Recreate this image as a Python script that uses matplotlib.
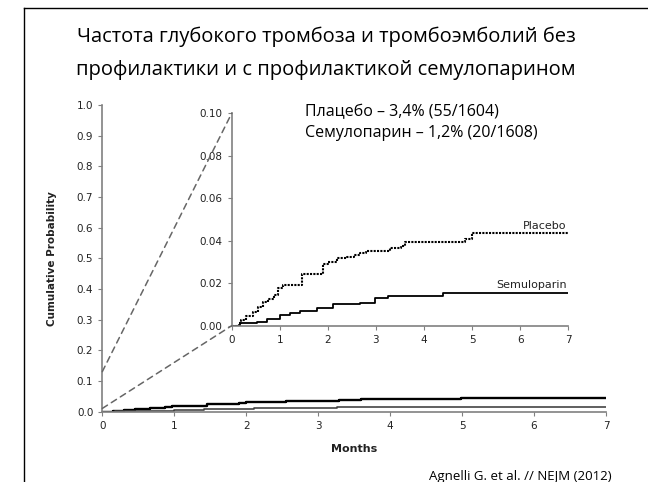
import numpy as np
import matplotlib
matplotlib.use('Agg')
import matplotlib.pyplot as plt
from matplotlib.patches import ConnectionPatch
from matplotlib.lines import Line2D

# data (Kaplan-Meier style step curves)
months_placebo = [0, 0.15, 0.2, 0.3, 0.45, 0.55, 0.66, 0.75, 0.87, 0.97, 1.07,
                  1.35, 1.46, 1.84, 1.9, 2.0, 2.18, 2.39, 2.55, 2.67, 2.8,
                  3.19, 3.29, 3.53, 3.6, 4.75, 4.85, 4.99, 7.0]
prob_placebo = [0, 0.0012, 0.0027, 0.0045, 0.0066, 0.0088, 0.0113, 0.0128, 0.0144,
                0.0176, 0.019, 0.0193, 0.0243, 0.0243, 0.029, 0.0302, 0.0317,
                0.0325, 0.0335, 0.0344, 0.0353, 0.0353, 0.0367, 0.0375, 0.0395,
                0.0395, 0.041, 0.0435, 0.0435]

months_semu = [0, 0.17, 0.52, 0.73, 1.0, 1.21, 1.42, 1.77, 2.11, 2.67, 2.98,
               3.26, 4.4, 7.0]
prob_semu = [0, 0.0011, 0.0016, 0.003, 0.005, 0.0061, 0.007, 0.0085, 0.01,
             0.0108, 0.0129, 0.014, 0.0155, 0.0155]

main_yticks = [0.0, 0.1, 0.2, 0.3, 0.4, 0.5, 0.6, 0.7, 0.8, 0.9, 1.0]
inset_yticks = [0.00, 0.02, 0.04, 0.06, 0.08, 0.10]
xticks = [0, 1, 2, 3, 4, 5, 6, 7]

title = "Частота глубокого тромбоза и тромбоэмболий без\nпрофилактики и с профилактикой семулопарином"
note = "Плацебо – 3,4% (55/1604)\nСемулопарин – 1,2% (20/1608)"
source = "Agnelli G. et al. // NEJM (2012)"

axis_grey = '#808080'
tick_kw = dict(labelsize=7.5, labelcolor='#222222', length=3, width=0.8,
               direction='out', color=axis_grey)

fig = plt.figure(figsize=(6.48, 4.82), dpi=100)

# slide frame (left and top edges visible)
fig.add_artist(Line2D([24/648, 24/648], [0, 1 - 8/482], color='black', lw=1.0))
fig.add_artist(Line2D([24/648, 1], [1 - 8/482, 1 - 8/482], color='black', lw=1.0))

fig.text(0.503, 1 - 27/482, title, ha='center', va='top', fontsize=14.5,
         family='Open Sans', linespacing=1.85, color='black')

# main axes
ax = fig.add_axes([102.3/648, 1 - 411.5/482, (606 - 102.3)/648, (411.5 - 105)/482])
ax.step(months_placebo, prob_placebo, where='post', color='black', lw=1.7)
ax.step(months_semu, prob_semu, where='post', color='#444444', lw=1.2)
ax.set_xlim(0, 7)
ax.set_ylim(0, 1.0)
ax.set_xticks(xticks)
ax.set_yticks(main_yticks)
ax.set_yticklabels(['%.1f' % v for v in main_yticks])
for s in ['top', 'right']:
    ax.spines[s].set_visible(False)
for s in ['left', 'bottom']:
    ax.spines[s].set_color(axis_grey)
    ax.spines[s].set_linewidth(1.2)
ax.tick_params(**tick_kw)
ax.set_xlabel('Months', fontsize=8, fontweight='bold', color='#222222', labelpad=10)
ax.set_ylabel('Cumulative Probability', fontsize=7.5, fontweight='bold',
              color='#222222', labelpad=14)
ax.patch.set_alpha(0)

# inset axes
ins = fig.add_axes([231.7/648, 1 - 325.7/482, (568.3 - 231.7)/648, (325.7 - 113.3)/482])
ins.step(months_placebo, prob_placebo, where='post', color='black', lw=1.5,
         linestyle=(0, (1, 0.6)))
ins.step(months_semu, prob_semu, where='post', color='black', lw=1.3)
ins.set_xlim(0, 7)
ins.set_ylim(0, 0.10)
ins.set_xticks(xticks)
ins.set_yticks(inset_yticks)
ins.set_yticklabels(['%.2f' % v for v in inset_yticks])
for s in ['top', 'right']:
    ins.spines[s].set_visible(False)
for s in ['left', 'bottom']:
    ins.spines[s].set_color(axis_grey)
    ins.spines[s].set_linewidth(1.2)
ins.tick_params(**tick_kw)
ins.patch.set_alpha(0)
ins.text(6.96, prob_placebo[-1] + 0.0013, 'Placebo', ha='right', va='bottom',
         fontsize=8, color='#222222')
ins.text(6.96, prob_semu[-1] + 0.0013, 'Semuloparin', ha='right', va='bottom',
         fontsize=8, color='#222222')

# dashed zoom lines from main axes to inset corners
for y_main, y_ins in [(0.13, 0.10), (0.01, 0.0)]:
    con = ConnectionPatch(xyA=(0, y_main), coordsA=ax.transData,
                          xyB=(0, y_ins), coordsB=ins.transData,
                          color='#666666', lw=1.1, linestyle=(0, (4, 3)))
    fig.add_artist(con)

fig.text(305/648, 1 - 104/482, note, ha='left', va='top', fontsize=11.5,
         family='Open Sans', linespacing=1.4, color='black')
fig.text(612/648, 1 - 480/482, source, ha='right', va='baseline', fontsize=9.5,
         family='Open Sans', color='black')

fig.savefig('out.png', dpi=100)
